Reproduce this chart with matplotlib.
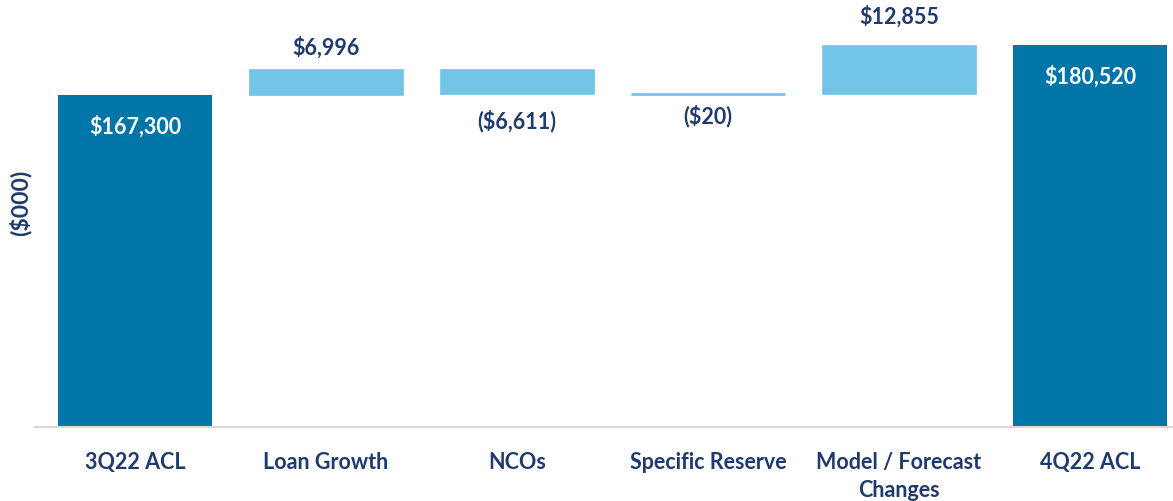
import matplotlib.pyplot as plt
import numpy as np

categories = ["3Q22 ACL", "Loan Growth", "NCOs", "Specific Reserve", "Model / Forecast\nChanges", "4Q22 ACL"]
start_value = 167300
changes = [6996, -6611, -20, 12855]
end_value = 180520
labels = ["$167,300", "$6,996", "($6,611)", "($20)", "$12,855", "$180,520"]

dark = "#0075A8"
light = "#73C5E8"
navy = "#1F3A6E"

plt.rcParams['font.family'] = ['Lato', 'DejaVu Sans']

fig = plt.figure(figsize=(11.73, 5.02), dpi=100)
ax = fig.add_axes([35/1173, (502-428)/502, 1 - 35/1173, 428/502])

ymin, ymax = 80000, 192600
x = np.arange(len(categories))
w = 0.806
fs = 15.5

# totals
ax.bar([0, 5], [start_value - ymin, end_value - ymin], bottom=ymin, width=w, color=dark, zorder=2)

# floating bars
pos_off = [8, 0, 0, 13]
neg_off = [0, -11, -7, 0]
running = start_value
for i, c in enumerate(changes):
    lo = running if c >= 0 else running + c
    h = abs(c)
    lw = 2.0 if h < 200 else 0.5
    ax.bar(x[i+1], h, bottom=lo, width=w, color=light, edgecolor=light, linewidth=lw, zorder=2)
    if c >= 0:
        ax.annotate(labels[i+1], (x[i+1], running + c), xytext=(0, pos_off[i]), textcoords="offset points",
                    ha="center", va="bottom", fontsize=fs, fontweight="bold", color=navy)
    else:
        ax.annotate(labels[i+1], (x[i+1], running + c), xytext=(0, neg_off[i]), textcoords="offset points",
                    ha="center", va="top", fontsize=fs, fontweight="bold", color=navy)
    running += c

ax.annotate(labels[0], (0, start_value), xytext=(0, -14), textcoords="offset points",
            ha="center", va="top", fontsize=fs, fontweight="bold", color="white")
ax.annotate(labels[5], (5, end_value), xytext=(0, -14), textcoords="offset points",
            ha="center", va="top", fontsize=fs, fontweight="bold", color="white")

ax.set_xlim(-0.524, 5.435)
ax.set_ylim(ymin, ymax)
ax.set_xticks(x)
ax.set_xticklabels(categories, fontsize=15.5, fontweight="bold", color=navy, linespacing=1.45)
ax.tick_params(axis="x", length=0, pad=17)
ax.set_yticks([])
for s in ["top", "right", "left"]:
    ax.spines[s].set_visible(False)
ax.spines["bottom"].set_color("#D9D9D9")
ax.spines["bottom"].set_linewidth(1.5)

fig.text(20/1173, 1 - 203/502, "($000)", rotation=90, ha="center", va="center",
         fontsize=16.5, fontweight="bold", color=navy)

fig.savefig("out.png", dpi=100)
